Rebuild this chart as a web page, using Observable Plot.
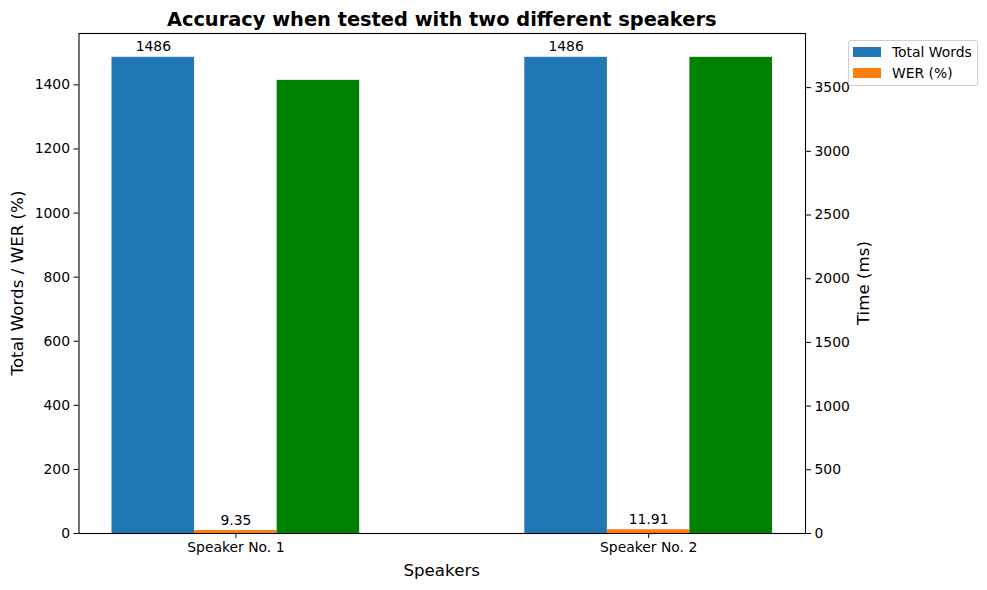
<!DOCTYPE html>
<html>
<head>
<meta charset="utf-8">
<script src="https://cdn.jsdelivr.net/npm/d3@7"></script>
<script src="https://cdn.jsdelivr.net/npm/@observablehq/plot@0.6"></script>
<style>
  body { margin: 0; background: white; font-family: "DejaVu Sans", sans-serif; }
  #wrap { position: relative; width: 987px; height: 590px; overflow: hidden; }
  #wrap svg { position: absolute; left: 0; top: 0; }
  .ov { position: absolute; color: black; white-space: nowrap; font-family: "DejaVu Sans", sans-serif; }
  #title { font-weight: bold; font-size: 19.4px; left: 441.7px; top: 8px; transform: translateX(-50%); }
  #xlabel { font-size: 16.7px; left: 441.7px; top: 560px; transform: translateX(-50%); }
  #ylabel { font-size: 16.7px; left: 17px; top: 283px; transform: translate(-50%, -50%) rotate(-90deg); }
  #y2label { font-size: 16.7px; left: 863px; top: 283px; transform: translate(-50%, -50%) rotate(-90deg); }
  #legend { left: 848px; top: 40px; width: 128px; height: 44px; border: 1px solid #d0d0d0; border-radius: 3px; background: rgba(255,255,255,0.8); font-size: 13.9px; }
  .li { position: absolute; left: 4px; display: flex; align-items: center; }
  .sw { width: 28px; height: 10px; margin-right: 11px; }
</style>
</head>
<body>
<div id="wrap">
  <div id="chart"></div>
  <div id="title" class="ov">Accuracy when tested with two different speakers</div>
  <div id="xlabel" class="ov">Speakers</div>
  <div id="ylabel" class="ov">Total Words / WER (%)</div>
  <div id="y2label" class="ov">Time (ms)</div>
  <div id="legend" class="ov"></div>
</div>
<script>
const speakers = ["Speaker No. 1", "Speaker No. 2"];
const totalWords = [1486, 1486];
const werPct = [9.35, 11.91];
const timeMs = [3557, 3738];
const leftTicks = [0, 200, 400, 600, 800, 1000, 1200, 1400];
const rightTicks = [0, 500, 1000, 1500, 2000, 2500, 3000, 3500];
const seriesNames = ["Total Words", "WER (%)"];
const colors = { words: "#1f77b4", wer: "#ff7f0e", time: "#008000" };

const barW = 0.2;
const yMax = d3.max(totalWords.concat(werPct)) * 1.05;
const y2Max = d3.max(timeMs) * 1.05;
const k = yMax / y2Max; // map right-axis (time) values into left-axis units

const rows = [];
speakers.forEach((s, i) => {
  rows.push({ s, i, off: -barW, v: totalWords[i], y: totalWords[i], fill: colors.words, label: String(totalWords[i]) });
  rows.push({ s, i, off: 0, v: werPct[i], y: werPct[i], fill: colors.wer, label: werPct[i].toFixed(2) });
  rows.push({ s, i, off: barW, v: timeMs[i], y: timeMs[i] * k, fill: colors.time, label: null });
});

const chart = Plot.plot({
  width: 987,
  height: 590,
  marginLeft: 78.5,
  marginRight: 182,
  marginTop: 33,
  marginBottom: 57,
  style: { fontFamily: "DejaVu Sans, sans-serif", fontSize: "13.9px", color: "black", background: "white" },
  x: { type: "linear", domain: [-0.38, 1.38] },
  y: { domain: [0, yMax], nice: false },
  marks: [
    Plot.rect(rows, {
      x1: d => d.i + d.off - barW / 2,
      x2: d => d.i + d.off + barW / 2,
      y1: 0,
      y2: "y",
      fill: "fill"
    }),
    Plot.text(rows.filter(d => d.label), {
      x: d => d.i + d.off,
      y: "y",
      text: "label",
      lineAnchor: "bottom",
      dy: -6,
      fill: "black"
    }),
    Plot.axisX(speakers.map((s, i) => i), {
      tickFormat: i => speakers[i],
      tickSize: 5, tickPadding: 4, label: null
    }),
    Plot.axisY(leftTicks, { anchor: "left", tickSize: 5, tickPadding: 4, label: null, tickFormat: v => String(v) }),
    Plot.axisY(rightTicks.map(t => t * k), {
      anchor: "right", tickSize: 5, tickPadding: 4, label: null,
      tickFormat: v => String(Math.round(v / k))
    }),
    Plot.frame({ stroke: "black", strokeWidth: 1.1 })
  ]
});
document.getElementById("chart").appendChild(chart);

const leg = document.getElementById("legend");
[colors.words, colors.wer].forEach((c, j) => {
  const it = document.createElement("div");
  it.className = "li";
  it.style.top = (j === 0 ? 3 : 24) + "px";
  it.innerHTML = `<span class="sw" style="background:${c}"></span><span>${seriesNames[j]}</span>`;
  leg.appendChild(it);
});
</script>
</body>
</html>
